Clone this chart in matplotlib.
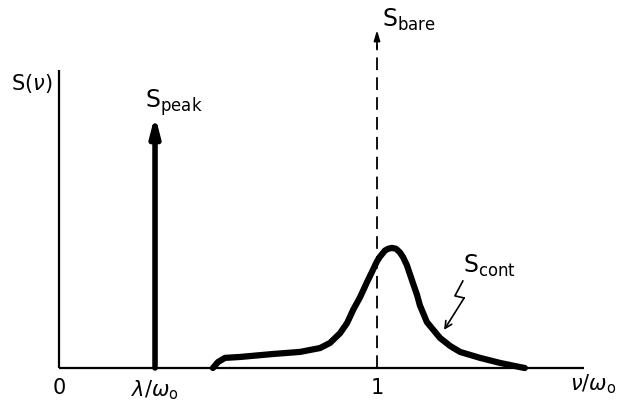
import numpy as np
import matplotlib
matplotlib.use('Agg')
import matplotlib.pyplot as plt

plt.rcParams['mathtext.fontset'] = 'dejavusans'
plt.rcParams['font.family'] = 'DejaVu Sans'

# continuous part of the spectrum, x in units of nu/omega_0
nu_cont = [0.484, 0.500, 0.522, 0.569, 0.673, 0.758, 0.821, 0.852, 0.884, 0.906,
           0.925, 0.947, 0.969, 0.984, 1.000, 1.009, 1.025, 1.035, 1.047, 1.060,
           1.072, 1.082, 1.094, 1.113, 1.126, 1.135, 1.157, 1.198, 1.230, 1.261,
           1.324, 1.387, 1.450, 1.465]
s_cont = [0.000, 0.020, 0.034, 0.037, 0.047, 0.054, 0.067, 0.084, 0.117, 0.151,
          0.195, 0.238, 0.289, 0.322, 0.358, 0.373, 0.394, 0.400, 0.403, 0.400,
          0.388, 0.372, 0.345, 0.285, 0.245, 0.210, 0.154, 0.101, 0.074, 0.054,
          0.034, 0.017, 0.003, 0.000]

# delta peaks: position and height of the arrows
nu_peak, s_peak = 0.302, 0.849
nu_bare, s_bare = 1.0, 1.134

xticks = [0, nu_peak, 1.0]
xticklabels = ['0', r'$\lambda/\omega_{\rm o}$', '1']

fig = plt.figure(figsize=(6.23, 4.04), dpi=100)
ax = fig.add_axes([0, 0, 1, 1])
ax.set_xlim(-0.1855, 1.7736)
ax.set_ylim(-0.1208, 1.2349)
ax.axis('off')

# axes lines
ax.plot([0, 1.65], [0, 0], color='k', lw=1.6, solid_capstyle='butt')
ax.plot([0, 0], [0, 1.0], color='k', lw=1.6, solid_capstyle='butt')

# S_peak: thick arrow
ax.annotate('', xy=(nu_peak, s_peak), xytext=(nu_peak, 0),
            arrowprops=dict(arrowstyle='-|>,head_length=1.1,head_width=0.28',
                            lw=4.0, color='k', shrinkA=0, shrinkB=0))
# S_bare: dashed arrow
ax.plot([nu_bare, nu_bare], [0, s_bare - 0.05], color='k', lw=1.3,
        dashes=(7, 4))
ax.annotate('', xy=(nu_bare, s_bare), xytext=(nu_bare, s_bare - 0.06),
            arrowprops=dict(arrowstyle='-|>,head_length=0.6,head_width=0.18',
                            lw=1.3, color='k', shrinkA=0, shrinkB=0))

# continuum
ax.plot(nu_cont, s_cont, color='k', lw=4.5, solid_capstyle='round',
        solid_joinstyle='round')

# zigzag pointer for S_cont
ax.plot([1.270, 1.245, 1.274], [0.292, 0.242, 0.235], color='k', lw=1.2)
ax.annotate('', xy=(1.211, 0.128), xytext=(1.274, 0.235),
            arrowprops=dict(arrowstyle='->,head_length=0.5,head_width=0.25',
                            lw=1.2, color='k', shrinkA=0, shrinkB=0))

fs = 15
ax.text(-0.085, 0.955, r'S($\nu$)', fontsize=fs, ha='center', va='center')
ax.text(0.27, 0.84, r'$\mathrm{S}_{\rm peak}$', fontsize=fs + 2, ha='left', va='bottom')
ax.text(1.015, 1.125, r'$\mathrm{S}_{\rm bare}$', fontsize=fs + 2, ha='left', va='bottom')
ax.text(1.27, 0.30, r'$\mathrm{S}_{\rm cont}$', fontsize=fs + 2, ha='left', va='bottom')

for xt, lab in zip(xticks, xticklabels):
    ax.text(xt, -0.035, lab, fontsize=fs, ha='center', va='top')
ax.text(1.68, -0.015, r'$\nu/\omega_{\rm o}$', fontsize=fs, ha='center', va='top')

fig.savefig('out.png', dpi=100)
